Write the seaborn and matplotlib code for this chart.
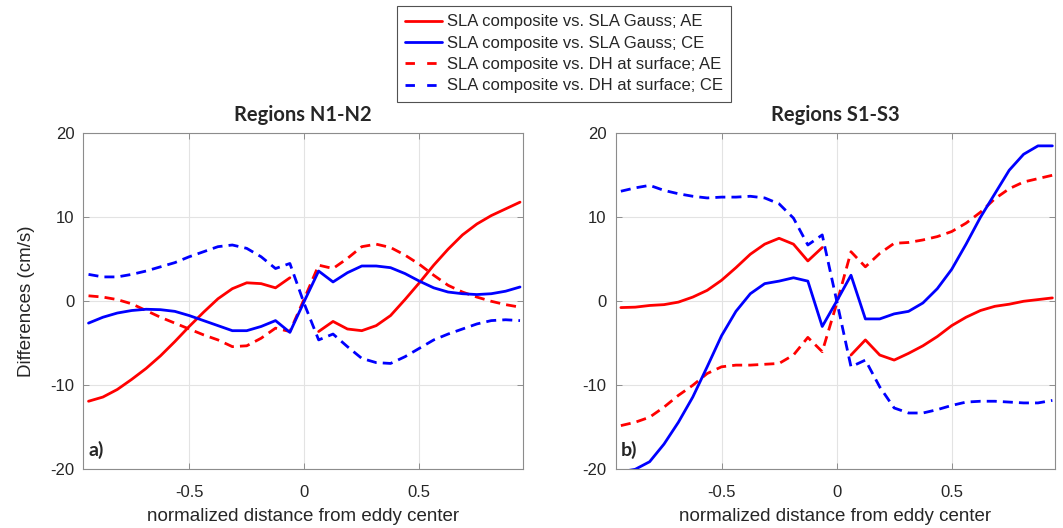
import numpy as np
import pandas as pd
import matplotlib
matplotlib.use("Agg")
import matplotlib.pyplot as plt
from matplotlib.lines import Line2D
import seaborn as sns

# normalized distance from eddy center (1/16 steps)
x_pos = np.arange(-15, 16) / 16.0

# Regions N1-N2 (panel a)
n_gauss_ae = [-11.9, -11.4, -10.5, -9.3, -8.0, -6.5, -4.8, -3.0, -1.3, 0.3, 1.5, 2.2, 2.1, 1.6, 2.8,
              np.nan,
              -3.6, -2.4, -3.3, -3.5, -2.9, -1.7, 0.2, 2.2, 4.3, 6.2, 7.9, 9.2, 10.2, 11.0, 11.8]
n_gauss_ce = [-2.6, -1.9, -1.4, -1.1, -0.95, -1.0, -1.2, -1.7, -2.3, -2.9, -3.5, -3.5, -3.0, -2.3, -3.7,
              0.0,
              3.6, 2.3, 3.4, 4.2, 4.2, 4.0, 3.3, 2.4, 1.6, 1.1, 0.9, 0.8, 0.9, 1.2, 1.7]
n_dh_ae = [0.65, 0.5, 0.2, -0.3, -1.1, -1.9, -2.6, -3.3, -4.0, -4.6, -5.4, -5.3, -4.4, -3.2, -3.6,
           0.3,
           4.3, 3.9, 5.1, 6.5, 6.8, 6.4, 5.5, 4.4, 3.1, 1.9, 1.1, 0.5, 0.0, -0.4, -0.7]
n_dh_ce = [3.2, 2.9, 2.9, 3.2, 3.6, 4.1, 4.6, 5.3, 5.9, 6.5, 6.7, 6.3, 5.3, 3.9, 4.5,
           -0.3,
           -4.6, -3.9, -5.4, -6.8, -7.3, -7.4, -6.6, -5.6, -4.6, -3.9, -3.3, -2.7, -2.3, -2.2, -2.3]

# Regions S1-S3 (panel b)
s_gauss_ae = [-0.75, -0.7, -0.5, -0.4, -0.1, 0.5, 1.3, 2.5, 4.0, 5.6, 6.8, 7.5, 6.8, 4.8, 6.4,
              np.nan,
              -6.4, -4.6, -6.4, -7.0, -6.2, -5.3, -4.2, -2.9, -1.9, -1.1, -0.6, -0.35, 0.0, 0.2, 0.4]
s_gauss_ce = [-20.3, -20.0, -19.1, -17.0, -14.4, -11.4, -7.8, -4.1, -1.2, 0.9, 2.1, 2.4, 2.8, 2.4, -3.0,
              0.0,
              3.1, -2.1, -2.1, -1.5, -1.2, -0.2, 1.5, 3.8, 6.8, 10.0, 12.8, 15.6, 17.5, 18.5, 18.5]
s_dh_ae = [-14.8, -14.4, -13.8, -12.6, -11.2, -10.0, -8.6, -7.8, -7.6, -7.6, -7.5, -7.4, -6.4, -4.3, -6.0,
           -0.3,
           5.9, 4.1, 5.7, 6.9, 7.0, 7.3, 7.7, 8.3, 9.3, 10.6, 12.2, 13.4, 14.2, 14.6, 15.0]
s_dh_ce = [13.1, 13.5, 13.8, 13.2, 12.8, 12.5, 12.3, 12.4, 12.4, 12.5, 12.3, 11.6, 9.9, 6.7, 7.9,
           0.1,
           -7.8, -7.0, -10.2, -12.7, -13.3, -13.3, -12.9, -12.4, -12.0, -11.9, -11.9, -12.0, -12.1, -12.1, -11.8]

legend_labels = ["SLA composite vs. SLA Gauss; AE",
                 "SLA composite vs. SLA Gauss; CE",
                 "SLA composite vs. DH at surface; AE",
                 "SLA composite vs. DH at surface; CE"]
panel_titles = ["Regions N1-N2", "Regions S1-S3"]
panel_tags = ["a)", "b)"]

RED = "#ff0000"
BLUE = "#0000ff"
DASH = (3.6, 2.2)


def long_frame(gauss_ae, gauss_ce, dh_ae, dh_ce):
    """Long-form table; NaNs split a series into separate units (gaps)."""
    rows = []
    for eddy, ref, vals in [("AE", "Gauss", gauss_ae), ("CE", "Gauss", gauss_ce),
                            ("AE", "DH", dh_ae), ("CE", "DH", dh_ce)]:
        seg = 0
        for xv, yv in zip(x_pos, vals):
            if np.isnan(yv):
                seg += 1
                continue
            rows.append((xv, yv, eddy, ref, f"{eddy}-{ref}-{seg}"))
    return pd.DataFrame(rows, columns=["x", "y", "eddy", "ref", "seg"])


sns.set_theme(style="white")
plt.rcParams["font.family"] = ["Liberation Sans", "DejaVu Sans"]

fig = plt.figure(figsize=(10.63, 5.28), dpi=100)
ax_w, ax_h = 0.4135, 0.6364
axes = [fig.add_axes([0.0784, 0.1112, ax_w, ax_h]),
        fig.add_axes([0.5792, 0.1112, ax_w, ax_h])]

frames = [long_frame(n_gauss_ae, n_gauss_ce, n_dh_ae, n_dh_ce),
          long_frame(s_gauss_ae, s_gauss_ce, s_dh_ae, s_dh_ce)]

for i, (ax, df) in enumerate(zip(axes, frames)):
    sns.lineplot(data=df, x="x", y="y", hue="eddy", style="ref", units="seg",
                 estimator=None, sort=False, ax=ax, legend=False,
                 palette={"AE": RED, "CE": BLUE},
                 dashes={"Gauss": "", "DH": DASH}, linewidth=2)
    ax.set_xlim(-0.96, 0.95)
    ax.set_ylim(-20, 20)
    ax.set_xticks([-0.5, 0, 0.5])
    ax.set_xticklabels(["-0.5", "0", "0.5"])
    ax.set_yticks([-20, -10, 0, 10, 20])
    ax.set_yticklabels(["-20", "-10", "0", "10", "20"])
    ax.grid(True, color="#e3e3e3", linewidth=0.8)
    ax.set_axisbelow(True)
    ax.tick_params(direction="in", length=4, width=0.6, color="#808080",
                   labelsize=12, labelcolor="#262626",
                   top=True, right=True, bottom=True, left=True)
    ax.tick_params(axis="x", pad=11.5)
    ax.tick_params(axis="y", pad=6.5)
    for sp in ax.spines.values():
        sp.set_color("#8c8c8c")
        sp.set_linewidth(0.8)
    ax.set_xlabel("normalized distance from eddy center", fontsize=13.5,
                  color="#262626", labelpad=5.5)
    ax.set_ylabel("Differences (cm/s)" if i == 0 else "", fontsize=13.5,
                  color="#262626", labelpad=11)
    ax.set_title(panel_titles[i], family=["Lato", "DejaVu Sans"], fontweight="bold",
                 fontsize=14.5, pad=9)
    ax.text(0.012, 0.03, panel_tags[i], transform=ax.transAxes,
            family=["Lato", "DejaVu Sans"], fontweight="bold", fontsize=14,
            ha="left", va="bottom")

leg_dash = (3.4, 4.4)
handles = [Line2D([], [], color=RED, lw=2),
           Line2D([], [], color=BLUE, lw=2),
           Line2D([], [], color=RED, lw=2, dashes=leg_dash),
           Line2D([], [], color=BLUE, lw=2, dashes=leg_dash)]
leg = fig.legend(handles, legend_labels, loc="upper left",
                 bbox_to_anchor=(396.7 / 1063, 1 - 6 / 528),
                 bbox_transform=fig.transFigure, fontsize=12,
                 frameon=True, fancybox=False, borderaxespad=0,
                 handlelength=2.2, handletextpad=0.3, borderpad=0.5,
                 labelspacing=0.38)
leg.get_frame().set_edgecolor("#262626")
leg.get_frame().set_linewidth(0.8)
for t in leg.get_texts():
    t.set_color("#262626")

fig.savefig("out.png", dpi=100)
